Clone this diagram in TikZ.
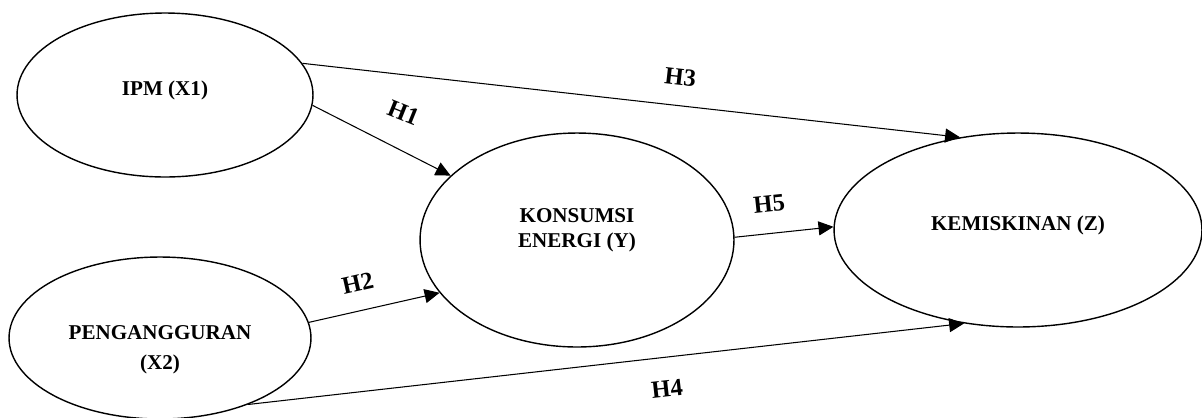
\documentclass[tikz,border=0pt]{standalone}
\usepackage{fontspec}
\setmainfont{Liberation Serif}
\usetikzlibrary{arrows.meta, shapes.geometric, positioning}
\tikzset{
  var/.style={draw, ellipse, thick, inner sep=0pt, align=center, text height=0pt, text depth=0pt, font=\fontsize{12}{14}\selectfont\bfseries},
  pto/.style={-{Triangle[length=8.5pt,width=8pt]}, semithick},
  hlab/.style={font=\fontsize{14}{16}\selectfont\bfseries, inner sep=0pt, sloped}
}

\begin{document}
\begin{tikzpicture}[x=0.02cm, y=-0.02cm]
  \useasboundingbox (0,0) rectangle (1202,417);

  % variables
  \node[var, minimum width=5.92cm, minimum height=3.28cm] (ipm) at (165,95) {IPM (X1)};
  \node[var, minimum width=6.04cm, minimum height=3.24cm, text height=36pt] (peng) at (160,338) {PENGANGGURAN\\[3pt](X2)};
  \node[var, minimum width=6.28cm, minimum height=4.28cm, text height=8pt] (kons) at (577,240) {KONSUMSI\\ENERGI (Y)};
  \node[var, minimum width=7.36cm, minimum height=3.88cm] (kem) at (1018,230) {KEMISKINAN (Z)};

  % hypotheses
  \draw[pto] (ipm.-4) -- node[hlab, pos=.55, above=.52cm, rotate=5] {H1} (kons.153);
  \draw[pto] (peng.6) -- node[hlab, pos=.42, above=.38cm] {H2} (kons.201);
  \draw[pto] (ipm.13) -- node[hlab, pos=.57, above=.4cm] {H3} (kem.122);
  \draw[pto] (peng.-37) -- node[hlab, pos=.58, below=.46cm] {H4} (kem.240);
  \draw[pto] (kons.1) -- node[hlab, pos=.38, above=.42cm] {H5} (kem.179);
\end{tikzpicture}
\end{document}
